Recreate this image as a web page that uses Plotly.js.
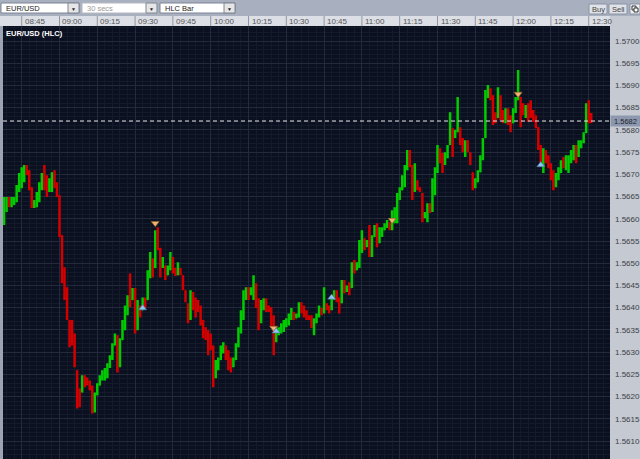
<!DOCTYPE html>
<html><head><meta charset="utf-8">
<script src="https://cdn.plot.ly/plotly-3.0.1.min.js"></script>
<style>html,body{margin:0;padding:0;background:#c5c9d1;overflow:hidden}#chart{width:640px;height:459px}</style>
</head><body><div id="chart"></div>
<script>
// ---- data (1-minute HLC bars) ----
const sessionDay = '2008-06-20';
const firstBarTime = '08:38';
const high = [
1.56649,1.56649,1.56649,1.56649,1.56649,1.56676,1.56703,
1.56716,1.56721,1.56721,1.56709,1.56671,1.56642,1.56660,1.56682,1.56703,1.56721,
1.56698,1.56691,1.56705,1.56709,1.56682,1.56653,1.56563,1.56491,1.56446,1.56372,
1.56372,1.56342,1.56259,1.56218,1.56248,1.56248,1.56243,1.56236,1.56225,1.56209,
1.56230,1.56248,1.56259,1.56264,1.56275,1.56293,1.56320,1.56342,1.56338,1.56331,
1.56372,1.56405,1.56428,1.56477,1.56444,1.56444,1.56417,1.56405,1.56423,1.56423,
1.56484,1.56525,1.56511,1.56574,1.56581,1.56534,1.56514,1.56495,1.56495,1.56525,
1.56514,1.56489,1.56502,1.56489,1.56473,1.56439,1.56410,1.56439,1.56435,1.56423,
1.56417,1.56405,1.56372,1.56356,1.56349,1.56342,1.56315,1.56282,1.56288,1.56315,
1.56322,1.56315,1.56304,1.56288,1.56288,1.56320,1.56356,1.56394,1.56439,1.56446,
1.56446,1.56446,1.56473,1.56455,1.56421,1.56417,1.56421,1.56421,1.56405,1.56401,
1.56383,1.56354,1.56356,1.56365,1.56372,1.56376,1.56387,1.56399,1.56390,1.56387,
1.56412,1.56412,1.56405,1.56394,1.56383,1.56383,1.56376,1.56387,1.56405,1.56399,
1.56446,1.56410,1.56405,1.56421,1.56439,1.56439,1.56423,1.56462,1.56462,1.56450,
1.56457,1.56502,1.56507,1.56502,1.56552,1.56574,1.56556,1.56552,1.56586,1.56563,
1.56586,1.56590,1.56581,1.56581,1.56590,1.56597,1.56592,1.56619,1.56626,1.56658,
1.56671,1.56698,1.56721,1.56755,1.56755,1.56721,1.56725,1.56687,1.56671,1.56658,
1.56615,1.56635,1.56635,1.56691,1.56716,1.56766,1.56759,1.56748,1.56750,1.56766,
1.56840,1.56804,1.56800,1.56874,1.56806,1.56782,1.56777,1.56777,1.56750,1.56705,
1.56691,1.56709,1.56743,1.56782,1.56890,1.56901,1.56894,1.56878,1.56840,1.56896,
1.56878,1.56845,1.56849,1.56849,1.56833,1.56849,1.56874,1.56935,1.56874,1.56860,
1.56856,1.56860,1.56867,1.56845,1.56833,1.56806,1.56766,1.56759,1.56755,1.56743,
1.56725,1.56709,1.56703,1.56716,1.56732,1.56739,1.56743,1.56743,1.56755,1.56766,
1.56766,1.56777,1.56777,1.56795,1.56860,1.56867,1.56838];
const low = [
1.56586,1.56615,1.56626,1.56626,1.56631,1.56637,1.56660,
1.56669,1.56682,1.56698,1.56664,1.56624,1.56624,1.56626,1.56637,1.56664,1.56664,
1.56649,1.56660,1.56660,1.56669,1.56649,1.56559,1.56455,1.56417,1.56372,1.56311,
1.56315,1.56266,1.56173,1.56176,1.56209,1.56221,1.56225,1.56214,1.56162,1.56164,
1.56203,1.56225,1.56236,1.56236,1.56241,1.56264,1.56282,1.56315,1.56254,1.56266,
1.56327,1.56349,1.56383,1.56401,1.56417,1.56342,1.56349,1.56378,1.56394,1.56399,
1.56417,1.56466,1.56468,1.56489,1.56529,1.56468,1.56489,1.56462,1.56473,1.56484,
1.56477,1.56471,1.56473,1.56473,1.56439,1.56412,1.56365,1.56372,1.56394,1.56378,
1.56390,1.56360,1.56331,1.56327,1.56293,1.56304,1.56221,1.56241,1.56259,1.56282,
1.56297,1.56282,1.56259,1.56254,1.56266,1.56282,1.56311,1.56342,1.56372,1.56417,
1.56417,1.56428,1.56417,1.56399,1.56349,1.56365,1.56394,1.56390,1.56390,1.56356,
1.56293,1.56322,1.56338,1.56342,1.56345,1.56356,1.56360,1.56372,1.56372,1.56376,
1.56378,1.56387,1.56378,1.56372,1.56372,1.56354,1.56338,1.56365,1.56378,1.56383,
1.56387,1.56394,1.56387,1.56394,1.56417,1.56412,1.56387,1.56410,1.56432,1.56435,
1.56428,1.56444,1.56477,1.56484,1.56489,1.56523,1.56529,1.56536,1.56514,1.56514,
1.56559,1.56536,1.56545,1.56559,1.56574,1.56579,1.56574,1.56574,1.56590,1.56590,
1.56642,1.56664,1.56671,1.56709,1.56716,1.56642,1.56660,1.56664,1.56660,1.56592,
1.56601,1.56592,1.56613,1.56615,1.56653,1.56703,1.56725,1.56703,1.56721,1.56736,
1.56766,1.56739,1.56782,1.56795,1.56766,1.56750,1.56739,1.56750,1.56721,1.56664,
1.56669,1.56682,1.56705,1.56732,1.56782,1.56872,1.56867,1.56811,1.56815,1.56827,
1.56822,1.56815,1.56815,1.56811,1.56795,1.56815,1.56838,1.56867,1.56806,1.56833,
1.56827,1.56818,1.56827,1.56818,1.56804,1.56755,1.56725,1.56703,1.56725,1.56714,
1.56687,1.56664,1.56671,1.56687,1.56703,1.56714,1.56709,1.56703,1.56725,1.56732,
1.56725,1.56739,1.56759,1.56770,1.56793,1.56815,1.56815];
const close = [
1.56642,1.56642,1.56631,1.56635,1.56642,1.56671,1.56696,
1.56709,1.56716,1.56709,1.56676,1.56631,1.56635,1.56653,1.56671,1.56698,1.56676,
1.56664,1.56682,1.56698,1.56676,1.56653,1.56574,1.56473,1.56428,1.56383,1.56338,
1.56327,1.56270,1.56214,1.56209,1.56241,1.56236,1.56230,1.56218,1.56180,1.56203,
1.56225,1.56243,1.56243,1.56254,1.56270,1.56288,1.56315,1.56331,1.56282,1.56327,
1.56365,1.56394,1.56421,1.56417,1.56428,1.56360,1.56405,1.56390,1.56417,1.56405,
1.56473,1.56502,1.56489,1.56568,1.56541,1.56495,1.56507,1.56473,1.56484,1.56518,
1.56489,1.56480,1.56484,1.56482,1.56446,1.56417,1.56376,1.56428,1.56417,1.56399,
1.56399,1.56372,1.56342,1.56338,1.56338,1.56315,1.56259,1.56264,1.56282,1.56309,
1.56315,1.56293,1.56277,1.56270,1.56282,1.56311,1.56349,1.56383,1.56428,1.56435,
1.56432,1.56439,1.56439,1.56417,1.56383,1.56412,1.56412,1.56399,1.56394,1.56367,
1.56327,1.56345,1.56349,1.56354,1.56365,1.56372,1.56383,1.56390,1.56376,1.56381,
1.56405,1.56394,1.56387,1.56376,1.56376,1.56360,1.56367,1.56383,1.56399,1.56394,
1.56405,1.56403,1.56399,1.56417,1.56432,1.56428,1.56399,1.56455,1.56444,1.56446,
1.56439,1.56495,1.56484,1.56498,1.56541,1.56563,1.56541,1.56545,1.56525,1.56556,
1.56579,1.56552,1.56563,1.56574,1.56586,1.56590,1.56586,1.56592,1.56601,1.56649,
1.56664,1.56691,1.56714,1.56743,1.56732,1.56664,1.56687,1.56671,1.56664,1.56608,
1.56610,1.56628,1.56624,1.56682,1.56709,1.56755,1.56736,1.56732,1.56743,1.56761,
1.56822,1.56788,1.56793,1.56804,1.56777,1.56759,1.56766,1.56755,1.56732,1.56676,
1.56682,1.56705,1.56736,1.56777,1.56878,1.56890,1.56876,1.56827,1.56827,1.56872,
1.56845,1.56827,1.56840,1.56827,1.56811,1.56840,1.56867,1.56874,1.56856,1.56845,
1.56849,1.56840,1.56836,1.56833,1.56811,1.56766,1.56732,1.56750,1.56736,1.56721,
1.56694,1.56682,1.56696,1.56698,1.56725,1.56723,1.56727,1.56736,1.56743,1.56755,
1.56750,1.56766,1.56773,1.56788,1.56849,1.56827,1.56822];
const firstOpen = 1.56620;
const timeTicks = ['08:45','09:00','09:15','09:30','09:45','10:00','10:15','10:30',
                   '10:45','11:00','11:15','11:30','11:45','12:00','12:15','12:30'];
const lastPrice = 1.5682;
const sellTimes  = ['09:38','10:25','11:12','12:02'];
const sellPrices = [1.56590,1.56354,1.56597,1.56881];
const buyTimes   = ['09:33','10:26','10:48','12:11'];
const buyPrices  = [1.56399,1.56347,1.56423,1.56721];
const symbolTitle = 'EUR/USD (HLC)';
const menuSymbol = 'EUR/USD', menuPeriod = '30 secs', menuType = 'HLC Bar';

// ---- helpers ----
function ts(hm){ return sessionDay + ' ' + hm + ':00'; }
const times = [];
(function(){
  const p = firstBarTime.split(':');
  let mins = (+p[0])*60 + (+p[1]);
  for (let i = 0; i < close.length; i++, mins++) {
    const h = Math.floor(mins/60), m = mins%60;
    times.push(ts(String(h).padStart(2,'0') + ':' + String(m).padStart(2,'0')));
  }
})();
const open = close.map((c,i) => {
  const o = i === 0 ? firstOpen : close[i-1];
  return Math.min(high[i], Math.max(low[i], o));
});

const W = 640, H = 459, ML = 3, MR = 30, MT = 26;
const PW = W - ML - MR, PH = H - MT;
const px = x => (x - ML) / PW;
const py = y => (H - y) / PH;

const FONT = 'Liberation Sans, Arial, sans-serif';
const shapes = [];
const annotations = [];
function rect(x0,y0,x1,y1,fill,line){
  shapes.push({type:'rect', xref:'paper', yref:'paper', x0:px(x0), x1:px(x1), y0:py(y1), y1:py(y0),
    fillcolor:fill, line:{color:line||'rgba(0,0,0,0)', width:line?1:0}, layer:'above'});
}
function label(x,y,text,opt){
  opt = opt || {};
  annotations.push({xref:'paper', yref:'paper', x:px(x), y:py(y), text:text, showarrow:false,
    xanchor:opt.xa||'left', yanchor:'middle', font:{family:FONT, size:opt.size||8, color:opt.color||'#222'}});
}

// chrome: toolbar, left strip, time strip
rect(0,0,640,16,'#a8b0c0');
rect(0,26,3,459,'#9ca4b4');
rect(0,16,610,26,'#dcdfe6');
// dropdowns
[[1,79,menuSymbol,'#222','#7c8494'],[82,157,menuPeriod,'#9a9a9a','#b4b8c0'],[160,235,menuType,'#222','#7c8494']].forEach(d=>{
  rect(d[0],3,d[1],13,'#ffffff', d[4]);
  rect(d[1]-11,3,d[1],13,'#e6e6e6','#7c8494');
  label(d[0]+3,8.3,d[2],{color:d[3], size:7.5});
  label(d[1]-5.5,8.5,'▼',{xa:'center', size:5, color:'#222'});
});
// buttons
[[589,607,'Buy'],[609,627,'Sell']].forEach(b=>{
  rect(b[0],4,b[1],14,'#dfe2e8','#8b93a3');
  label((b[0]+b[1])/2,9,b[2],{xa:'center', size:7.5, color:'#444'});
});
rect(630,4,640,14,'#eef0f4','#8b93a3');
rect(632,6,636,10,'#ffffff','#333');
rect(634,8,638,12,'#ffffff','#333');

// time strip separators + labels (on the data x scale)
timeTicks.forEach(t=>{
  shapes.push({type:'line', xref:'x', yref:'paper', x0:ts(t), x1:ts(t), y0:py(26), y1:py(16),
    line:{color:'#9297a2', width:1}, layer:'above'});
  annotations.push({xref:'x', yref:'paper', x:ts(t), y:py(21), text:t, showarrow:false,
    xanchor:'left', yanchor:'middle', xshift:1, font:{family:FONT, size:8, color:'#555'}});
});

// title inside plot
annotations.push({xref:'paper', yref:'paper', x:px(4), y:py(27), text:'<b>'+symbolTitle+'</b>', showarrow:false,
  xanchor:'left', yanchor:'top', font:{family:FONT, size:7.5, color:'#ffffff'}});

// last price dashed line + axis label
shapes.push({type:'line', xref:'paper', yref:'y', x0:0, x1:1, y0:lastPrice, y1:lastPrice,
  line:{color:'#e8e8e8', width:1, dash:'4px,3px'}, layer:'above'});
annotations.push({xref:'paper', yref:'y', x:1, y:lastPrice, text:lastPrice.toFixed(4), showarrow:false,
  xanchor:'left', yanchor:'middle', bgcolor:'#8d98ae', width:29, height:10, borderpad:0,
  font:{family:FONT, size:7.5, color:'#1e2430'}});

const traces = [
  {type:'ohlc', x:times, open:open, high:high, low:low, close:close,
   increasing:{line:{color:'#00cc00', width:2.5}}, decreasing:{line:{color:'#d40000', width:2.5}},
   tickwidth:0.1, hoverinfo:'skip', showlegend:false},
  {type:'scatter', mode:'markers', x:sellTimes.map(ts), y:sellPrices, hoverinfo:'skip',
   marker:{symbol:'triangle-down', size:7, color:'#f3b56e', line:{color:'#8a5a2a', width:0.6}}},
  {type:'scatter', mode:'markers', x:buyTimes.map(ts), y:buyPrices, hoverinfo:'skip',
   marker:{symbol:'triangle-up', size:7, color:'#8cc6f2', line:{color:'#4a6a8a', width:0.6}}}
];

const layout = {
  width:W, height:H, margin:{l:ML, r:MR, t:MT, b:0, pad:0},
  paper_bgcolor:'#c5c9d1', plot_bgcolor:'#0b1020', showlegend:false,
  xaxis:{type:'date', range:[sessionDay+' 08:37:35', sessionDay+' 12:38:27'],
    showticklabels:false, ticks:'', showgrid:true, gridcolor:'#222a3b', gridwidth:1,
    tick0:ts('08:45'), dtick:900000,
    minor:{dtick:180000, showgrid:true, gridcolor:'#131a29', gridwidth:1},
    zeroline:false, showline:false, rangeslider:{visible:false}, fixedrange:true},
  yaxis:{side:'right', range:[1.560595, 1.570338], tick0:1.561, dtick:0.0005, tickformat:'.4f',
    showgrid:true, gridcolor:'#222a3b', gridwidth:1,
    minor:{dtick:0.0001, showgrid:true, gridcolor:'#131a29', gridwidth:1},
    ticks:'', ticklabelstandoff:4, tickfont:{family:FONT, size:8, color:'#3a3f48'},
    zeroline:false, showline:false, fixedrange:true},
  shapes:shapes, annotations:annotations
};
Plotly.newPlot('chart', traces, layout, {displayModeBar:false, staticPlot:true});
</script>
</body></html>
